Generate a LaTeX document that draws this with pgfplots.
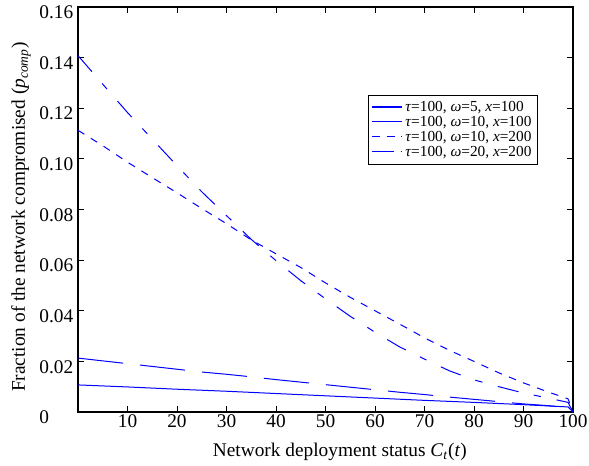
\documentclass[border=0pt]{standalone}
\usepackage{fontspec}
\setmainfont{Liberation Serif}
\usepackage{pgfplots}
\pgfplotsset{compat=1.18}
\definecolor{mblue}{RGB}{0,0,255}

\pgfplotstableread{
x y
0 0.0107
10 0.0099
20 0.0090
30 0.0082
40 0.0073
50 0.0064
60 0.0055
70 0.0046
80 0.0038
90 0.0029
99 0.0020
100 0
}\sA

\pgfplotstableread{
x y
0 0.0213
5 0.0202
10 0.0191
15 0.0180
20 0.0169
25 0.0158
30 0.0149
35 0.0139
40 0.0128
45 0.0118
50 0.0108
55 0.0098
60 0.0088
65 0.0078
70 0.0069
75 0.0059
80 0.0050
85 0.0041
90 0.0032
95 0.0025
99 0.0017
100 0
}\sB

\pgfplotstableread{
x y
0 0.1113
5 0.1052
10 0.0987
15 0.0926
20 0.0866
25 0.0804
30 0.0744
35 0.0680
40 0.0625
45 0.0571
50 0.0510
55 0.0453
60 0.0400
65 0.0347
70 0.0293
75 0.0244
80 0.0200
85 0.0155
90 0.0115
95 0.0079
99 0.0052
100 0
}\sC

\pgfplotstableread{
x y
0 0.1408
5 0.1295
10 0.1183
15 0.1078
20 0.0973
25 0.0870
30 0.0776
35 0.0682
40 0.0598
45 0.0519
50 0.0447
55 0.0378
60 0.0315
65 0.0257
70 0.0209
75 0.0163
80 0.0127
85 0.0100
90 0.0075
95 0.0055
99 0.0038
100 0
}\sD

\begin{document}
\begin{tikzpicture}
\begin{axis}[
  scale only axis,
  width=371.25pt, height=303.75pt,
  xmin=0, xmax=100, ymin=0, ymax=0.16,
  axis line style={black, line width=0.9pt},
  xtick={10,20,30,40,50,60,70,80,90,100},
  xticklabels={10,20,30,40,50,60,70,80,90,100},
  ytick={0,0.02,0.04,0.06,0.08,0.10,0.12,0.14,0.16},
  yticklabels={0\hphantom{.00},0.02,0.04,0.06,0.08,0.10,0.12,0.14,0.16},
  tick style={black, line width=0.6pt},
  tick align=inside,
  major tick length=4.5pt,
  ticklabel style={font=\fontsize{14.5}{17}\selectfont},
  xticklabel style={yshift=1.2pt},
  yticklabel style={yshift=-4pt},
  xlabel={Network deployment status \textit{C}\textsubscript{\textit{t}}(\textit{t})},
  ylabel={Fraction of the network compromised (\textit{p}\textsubscript{\textit{comp}})},
  every axis x label/.style={at={(rel axis cs:0.529,-0.0988)}, anchor=center,
    font=\fontsize{14.5}{17}\selectfont},
  every axis y label/.style={at={(rel axis cs:-0.1152,0.481)}, anchor=center, rotate=90,
    font=\fontsize{14.5}{17}\selectfont},
  legend style={at={(0.929,0.783)}, anchor=north east, draw=black, line width=0.6pt,
    fill=white, font=\fontsize{11.5}{13}\selectfont, row sep=-2pt, inner sep=2.5pt,
    cells={anchor=west}},
  legend image code/.code={\draw[#1] (0pt,0.4pt) -- (22.5pt,0.4pt);},
]
\addlegendimage{color=mblue, line width=1pt, solid}
\addlegendentry{\textit{τ}=100, \textit{ω}=5, \textit{x}=100}
\addlegendimage{color=mblue, line width=1pt, solid}
\addlegendentry{\textit{τ}=100, \textit{ω}=10, \textit{x}=100}
\addlegendimage{color=mblue, line width=1pt, dash pattern=on 6pt off 5pt}
\addlegendentry{\textit{τ}=100, \textit{ω}=10, \textit{x}=200}
\addlegendimage{color=mblue, line width=1pt, dash pattern=on 16.5pt off 5pt on 1.5pt off 3pt}
\addlegendentry{\textit{τ}=100, \textit{ω}=20, \textit{x}=200}

\addplot[mblue, line width=0.75pt, solid, forget plot] table[x=x,y=y] {\sA};
\addplot[mblue, line width=0.75pt, dash pattern=on 34pt off 12.75pt, forget plot] table[x=x,y=y] {\sB};
\addplot[mblue, line width=0.75pt, dash pattern=on 5.6pt off 5.7pt, forget plot] table[x=x,y=y] {\sC};
\addplot[mblue, line width=0.75pt, dash pattern=on 16pt off 11.7pt on 5.5pt off 12pt, forget plot] table[x=x,y=y] {\sD};

\coordinate (bl) at (rel axis cs:0,0);
\coordinate (tr) at (rel axis cs:1,1);
\end{axis}
\pgfresetboundingbox
\useasboundingbox ([xshift=-58.5pt,yshift=-39.75pt]bl) rectangle ([xshift=12pt,yshift=5.25pt]tr);
\end{tikzpicture}
\end{document}
